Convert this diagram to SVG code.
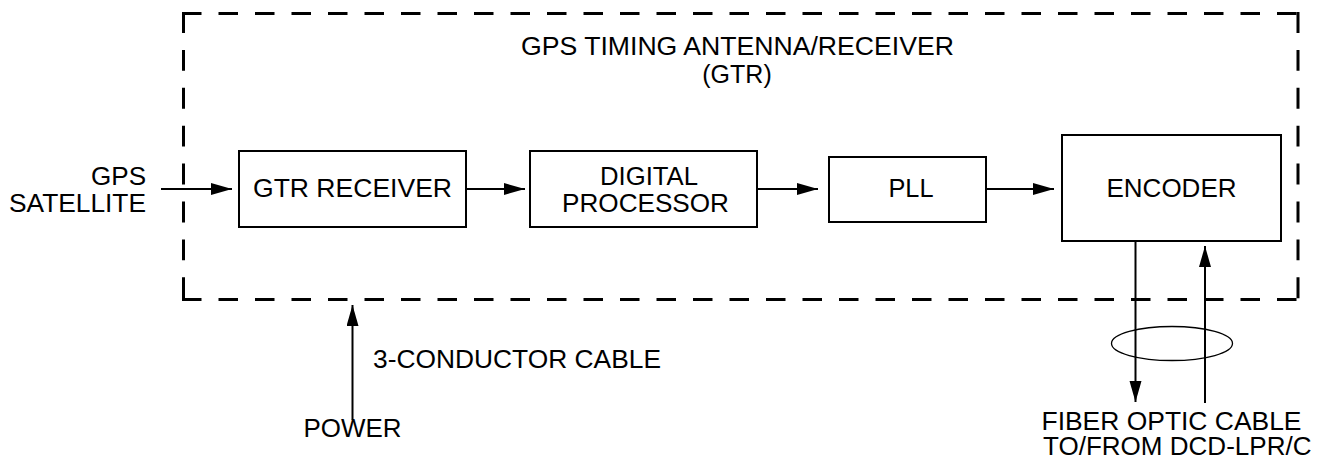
<svg xmlns="http://www.w3.org/2000/svg" width="1322" height="462" viewBox="0 0 1322 462">
<style>
text{font-family:"Liberation Sans",Arial,sans-serif;font-size:25px;fill:#000}
.box{fill:#fff;stroke:#000;stroke-width:2}
.ln{fill:none;stroke:#000;stroke-width:2}
.dash{fill:none;stroke:#000;stroke-width:3}
.h{stroke-dasharray:19.5 17}
.v{stroke-dasharray:20.9 17}
</style>
<defs>
<marker id="ah" markerUnits="userSpaceOnUse" markerWidth="22" markerHeight="14" refX="21" refY="6" orient="auto">
<path d="M0,0 L21,6 L0,12 z" fill="#000"/>
</marker>
</defs>
<g id="enclosure">
<line class="dash h" x1="182" y1="13.5" x2="1299.5" y2="13.5"/>
<line class="dash h" x1="182" y1="299.5" x2="1299.5" y2="299.5"/>
<line class="dash v" x1="183.5" y1="12" x2="183.5" y2="301"/>
<line class="dash v" x1="1298" y1="12" x2="1298" y2="301"/>
</g>
<g id="title">
<text x="737.5" y="55" text-anchor="middle" textLength="433" lengthAdjust="spacingAndGlyphs">GPS TIMING ANTENNA/RECEIVER</text>
<text x="737" y="83" text-anchor="middle">(GTR)</text>
</g>
<g id="gps-satellite">
<text x="146" y="185" text-anchor="end" textLength="55" lengthAdjust="spacingAndGlyphs">GPS</text>
<text x="146" y="212" text-anchor="end" textLength="137" lengthAdjust="spacingAndGlyphs">SATELLITE</text>
</g>
<g id="gtr-receiver">
<rect class="box" x="239" y="151" width="227" height="76"/>
<text x="352.5" y="196.5" text-anchor="middle" textLength="199" lengthAdjust="spacingAndGlyphs">GTR RECEIVER</text>
</g>
<g id="digital-processor">
<rect class="box" x="530" y="151" width="227" height="76"/>
<text x="649" y="185" text-anchor="middle" textLength="98" lengthAdjust="spacingAndGlyphs">DIGITAL</text>
<text x="645.5" y="212" text-anchor="middle" textLength="167" lengthAdjust="spacingAndGlyphs">PROCESSOR</text>
</g>
<g id="pll">
<rect class="box" x="829" y="157" width="157" height="65"/>
<text x="911" y="196.5" text-anchor="middle" textLength="45" lengthAdjust="spacingAndGlyphs">PLL</text>
</g>
<g id="encoder">
<rect class="box" x="1062" y="135" width="219" height="106"/>
<text x="1171.5" y="196.5" text-anchor="middle" textLength="130" lengthAdjust="spacingAndGlyphs">ENCODER</text>
</g>
<g id="power">
<text x="352.5" y="437" text-anchor="middle" textLength="98" lengthAdjust="spacingAndGlyphs">POWER</text>
<text x="373" y="368" textLength="288" lengthAdjust="spacingAndGlyphs">3-CONDUCTOR CABLE</text>
</g>
<g id="fiber-optic">
<ellipse cx="1172" cy="343.5" rx="60.5" ry="17" fill="none" stroke="#000" stroke-width="1.3"/>
<text x="1041.5" y="430" textLength="260" lengthAdjust="spacingAndGlyphs">FIBER OPTIC CABLE</text>
<text x="1043" y="455" textLength="268.5" lengthAdjust="spacingAndGlyphs">TO/FROM DCD-LPR/C</text>
</g>
<g id="connectors">
<line class="ln" x1="161" y1="189" x2="232" y2="189" marker-end="url(#ah)"/>
<line class="ln" x1="466" y1="189" x2="525" y2="189" marker-end="url(#ah)"/>
<line class="ln" x1="757" y1="189" x2="818" y2="189" marker-end="url(#ah)"/>
<line class="ln" x1="986" y1="189" x2="1054" y2="189" marker-end="url(#ah)"/>
<line class="ln" x1="352.5" y1="420" x2="352.5" y2="305" marker-end="url(#ah)"/>
<line class="ln" x1="1135.5" y1="241" x2="1135.5" y2="402" marker-end="url(#ah)"/>
<line class="ln" x1="1205" y1="403" x2="1205" y2="246" marker-end="url(#ah)"/>
</g>
</svg>
